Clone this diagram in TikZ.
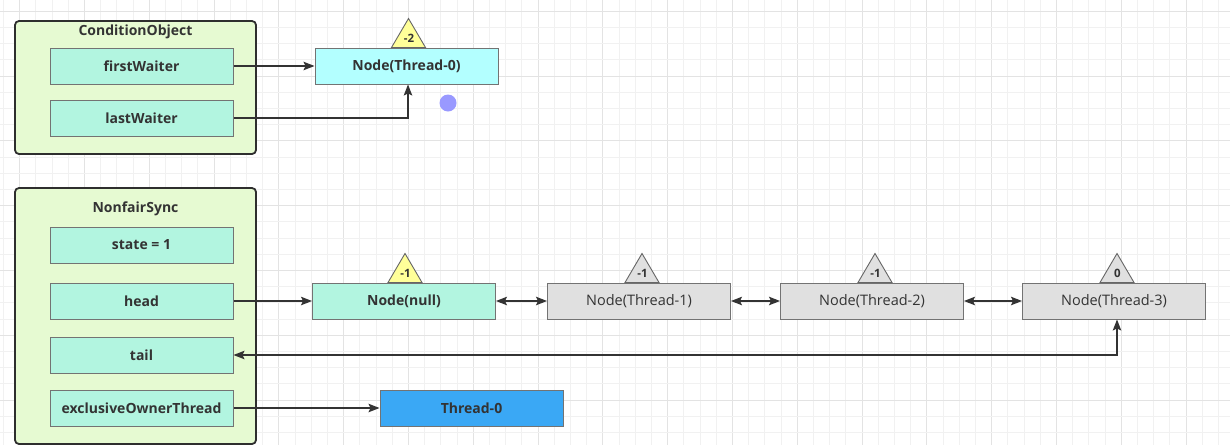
\documentclass[tikz,border=0pt]{standalone}
\usepackage{fontspec}
\setmainfont{Open Sans}
\usetikzlibrary{arrows.meta,calc}
\definecolor{txt}{HTML}{333333}
\definecolor{contfill}{HTML}{E6FAD2}
\definecolor{fieldfill}{HTML}{B2F5E0}
\definecolor{cyanfill}{HTML}{B3FFFF}
\definecolor{grayfill}{HTML}{E0E0E0}
\definecolor{bluefill}{HTML}{3AA8F5}
\definecolor{yellowfill}{HTML}{FFFF99}
\definecolor{dotfill}{HTML}{9999FF}
\definecolor{gridminor}{HTML}{F1F1F1}
\definecolor{gridmajor}{HTML}{E3E3E3}
\tikzset{
  container/.style={draw=txt!90!black, line width=1.8pt, fill=contfill, rounded corners=4pt},
  ctitle/.style={font=\bfseries\fontsize{14}{16}\selectfont, text=txt, inner sep=0pt},
  box/.style={draw=black!55, line width=1pt, minimum width=183pt, minimum height=36pt, inner sep=0pt, text=txt, font=\bfseries\fontsize{14}{16}\selectfont},
  field/.style={box, fill=fieldfill},
  cnode/.style={box, fill=cyanfill},
  mnode/.style={box, fill=fieldfill},
  gnode/.style={box, fill=grayfill, font=\fontsize{14.5}{16}\selectfont},
  bnode/.style={box, fill=bluefill},
  tri/.style={draw=black!60, line width=0.9pt},
  trilabel/.style={inner sep=0pt, text=txt, font=\bfseries\fontsize{11.5}{13}\selectfont},
  conn/.style={draw=txt, line width=1.1pt, -{Stealth[length=11pt,width=8.5pt,inset=2pt]}},
  dconn/.style={draw=txt, line width=1.1pt, {Stealth[length=11pt,width=8.5pt,inset=2pt]}-{Stealth[length=11pt,width=8.5pt,inset=2pt]}},
}
\begin{document}
\begin{tikzpicture}[x=1pt,y=-1pt]
\useasboundingbox (0,0) rectangle (1230,445);
\fill[white] (0,0) rectangle (1230,445);
% grid
\begin{scope}
\clip (0,0) rectangle (1230,445);
\foreach \i in {0,...,76}{
  \pgfmathtruncatemacro{\m}{mod(\i,4)}
  \ifnum\m=1
    \draw[gridmajor, line width=0.8pt] ({3.4+16.2*\i},0) -- ({3.4+16.2*\i},445);
  \else
    \draw[gridminor, line width=0.8pt] ({3.4+16.2*\i},0) -- ({3.4+16.2*\i},445);
  \fi
}
\foreach \j in {0,...,27}{
  \pgfmathtruncatemacro{\m}{mod(\j,4)}
  \ifnum\m=0
    \draw[gridmajor, line width=0.8pt] (0,{11.2+16.2*\j}) -- (1230,{11.2+16.2*\j});
  \else
    \draw[gridminor, line width=0.8pt] (0,{11.2+16.2*\j}) -- (1230,{11.2+16.2*\j});
  \fi
}
\end{scope}

% containers
\draw[container] (15,21) rectangle (256,154);
\node[ctitle] (cotitle) at (135.5,32) {ConditionObject};
\draw[container] (15,188) rectangle (256,444);
\node[ctitle] (nstitle) at (135.5,209) {NonfairSync};

% fields
\node[field] (fw) at (141.5,66) {firstWaiter};
\node[field] (lw) at (141.5,118) {lastWaiter};
\node[field] (st) at (141.5,245) {state = 1};
\node[field] (hd) at (141.5,301) {head};
\node[field] (tl) at (141.5,355) {tail};
\node[field] (eot) at (141.5,408) {exclusiveOwnerThread};

% queue nodes
\node[cnode] (n0) at (406.5,66) {Node(Thread-0)};
\node[mnode] (nn) at (404,301) {Node(null)};
\node[gnode] (n1) at (639,301) {Node(Thread-1)};
\node[gnode] (n2) at (872,301) {Node(Thread-2)};
\node[gnode] (n3) at (1114,301) {Node(Thread-3)};
\node[bnode] (t0) at (471.5,408) {Thread-0};

% triangles
\draw[tri, fill=yellowfill] ([xshift=-15pt]n0.north) -- ([xshift=2pt,yshift=29pt]n0.north) -- ([xshift=19pt]n0.north) -- cycle;
\node[trilabel] (w0) at ([xshift=2.5pt,yshift=9.5pt]n0.north) {-2};
\draw[tri, fill=yellowfill] ([xshift=-16pt]nn.north) -- ([xshift=1pt,yshift=29pt]nn.north) -- ([xshift=18pt]nn.north) -- cycle;
\node[trilabel] (wn) at ([xshift=1.5pt,yshift=9.5pt]nn.north) {-1};
\draw[tri, fill=grayfill] ([xshift=-14pt]n1.north) -- ([xshift=3pt,yshift=29pt]n1.north) -- ([xshift=20pt]n1.north) -- cycle;
\node[trilabel] (w1) at ([xshift=3.5pt,yshift=9.5pt]n1.north) {-1};
\draw[tri, fill=grayfill] ([xshift=-14pt]n2.north) -- ([xshift=3pt,yshift=29pt]n2.north) -- ([xshift=20pt]n2.north) -- cycle;
\node[trilabel] (w2) at ([xshift=3.5pt,yshift=9.5pt]n2.north) {-1};
\draw[tri, fill=grayfill] ([xshift=-14pt]n3.north) -- ([xshift=3pt,yshift=29pt]n3.north) -- ([xshift=20pt]n3.north) -- cycle;
\node[trilabel] (w3) at ([xshift=3.5pt,yshift=9.5pt]n3.north) {0};

% dot
\node[circle, fill=dotfill, minimum size=17pt, inner sep=0pt] (dot) at (448,103) {};

% connectors
\draw[conn] (fw.east) -- (n0.west);
\draw[conn] (lw.east) -| ([xshift=1.5pt]n0.south);
\draw[conn] (hd.east) -- (nn.west);
\draw[dconn] (nn.east) -- (n1.west);
\draw[dconn] (n1.east) -- (n2.west);
\draw[dconn] (n2.east) -- (n3.west);
\draw[dconn] (tl.east) -| ([xshift=3pt]n3.south);
\draw[conn] (eot.east) -- (t0.west);
\end{tikzpicture}
\end{document}
